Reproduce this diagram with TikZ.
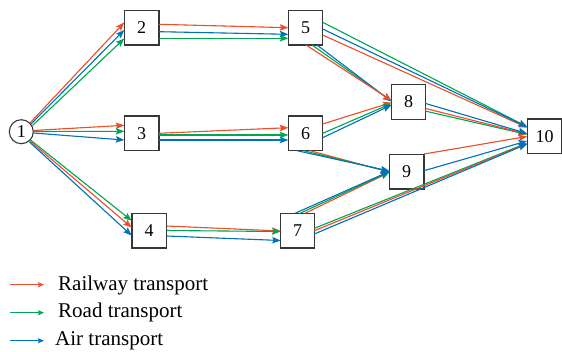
\documentclass[tikz,border=0pt]{standalone}
\usepackage{fontspec}
\setmainfont{Liberation Serif}
\usetikzlibrary{arrows.meta,calc}
\definecolor{rrail}{RGB}{239,78,42}
\definecolor{rroad}{RGB}{0,166,81}
\definecolor{rair}{RGB}{0,114,188}
\definecolor{boxline}{RGB}{55,55,55}
\tikzset{
  box/.style={draw=boxline,line width=1.3pt,minimum size=34.5pt,inner sep=0pt,font=\fontsize{18}{20}\selectfont},
  circ/.style={draw=boxline,line width=1.1pt,circle,minimum size=24pt,inner sep=0pt,font=\fontsize{18}{20}\selectfont},
  con/.style={line width=1.1pt,-{Stealth[length=8.5pt,width=6.5pt,inset=1.5pt]}},
  legarr/.style={line width=1pt,-{Stealth[length=6pt,width=5pt,inset=1pt]}},
  rw/.style={con,draw=rrail,fill=rrail},
  rd/.style={con,draw=rroad,fill=rroad},
  ar/.style={con,draw=rair,fill=rair},
  legtext/.style={anchor=base west,inner sep=0pt,font=\fontsize{21}{23}\selectfont}
}
\begin{document}
\begin{tikzpicture}[x=1pt,y=-1pt]
\useasboundingbox (0,0) rectangle (562,351);
% nodes
\node[circ] (n1) at (21.3,131.7) {1};
\node[box] (n2) at (141.7,27.8) {2};
\node[box] (n3) at (141.7,133.3) {3};
\node[box] (n4) at (149.2,230.8) {4};
\node[box] (n5) at (305.5,27.8) {5};
\node[box] (n6) at (305.5,133.3) {6};
\node[box] (n7) at (297.5,230.8) {7};
\node[box] (n8) at (408.5,102) {8};
\node[box] (n9) at (406.7,171.7) {9};
\node[box] (n10) at (544.6,136.2) {10};
% 1 -> 2
\draw[rw] ($(n1)+(8.7,-8.7)$) -- ($(n2)+(-17.4,-5.3)$);
\draw[rd] ($(n1)+(11.2,-6.2)$) -- ($(n2)+(-17.4,10.7)$);
\draw[ar] ($(n1)+(9.7,-7.7)$) -- ($(n2)+(-17.4,2.2)$);
% 1 -> 3
\draw[rw] ($(n1)+(12,-1.2)$) -- ($(n3)+(-17.4,-8)$);
\draw[rd] ($(n1)+(12,-0.2)$) -- ($(n3)+(-17.4,-2)$);
\draw[ar] ($(n1)+(12,1.3)$) -- ($(n3)+(-17.4,6.7)$);
% 1 -> 4
\draw[rd] ($(n1)+(9.2,8.3)$) -- ($(n4)+(-17.5,-10.1)$);
\draw[rw] ($(n1)+(8.7,9.3)$) -- ($(n4)+(-17.5,-3.3)$);
\draw[ar] ($(n1)+(8.2,10.3)$) -- ($(n4)+(-17.5,4.7)$);
% 2 -> 5
\draw[rw] ($(n2)+(17.3,-3.5)$) -- ($(n5)+(-17.2,-0.1)$);
\draw[ar] ($(n2)+(17.3,3.9)$) -- ($(n5)+(-17.2,6.5)$);
\draw[rd] ($(n2)+(17.3,10.5)$) -- ($(n5)+(-17.2,10.5)$);
% 3 -> 6
\draw[rw] ($(n3)+(17.3,0)$) -- ($(n6)+(-17.2,-5.6)$);
\draw[rd] ($(n3)+(17.3,1.7)$) -- ($(n6)+(-17.2,1.7)$);
\draw[ar] ($(n3)+(17.3,6.7)$) -- ($(n6)+(-17.2,6.7)$);
% 4 -> 7
\draw[rw] ($(n4)+(17.5,-4.8)$) -- ($(n7)+(-16.8,0.2)$);
\draw[rd] ($(n4)+(17.5,-0.3)$) -- ($(n7)+(-16.8,0.7)$);
\draw[ar] ($(n4)+(17.5,5.2)$) -- ($(n7)+(-16.8,9.7)$);
% 5 -> 10
\draw[rd] ($(n5)+(17.2,-5.5)$) -- ($(n10)+(-17.5,-9.5)$);
\draw[rw] ($(n5)+(17.2,7.2)$) -- ($(n10)+(-17.5,-8.5)$);
\draw[ar] ($(n5)+(17.2,1.2)$) -- ($(n10)+(-17.5,-9.2)$);
% 5 -> 8
\draw[rd] ($(n5)+(6.5,17.2)$) -- ($(n8)+(-17,-1)$);
\draw[ar] ($(n5)+(11.5,17.2)$) -- ($(n8)+(-17,-0.5)$);
\draw[rw] ($(n5)+(0.5,17.2)$) -- ($(n8)+(-17,-1.5)$);
% 6 -> 8
\draw[rw] ($(n6)+(17.2,-9.3)$) -- ($(n8)+(-17,0.5)$);
\draw[rd] ($(n6)+(17.2,0)$) -- ($(n8)+(-17,1.5)$);
\draw[ar] ($(n6)+(17.2,4.4)$) -- ($(n8)+(-17,3)$);
% 6 -> 9
\draw[rw] ($(n6)+(4.5,17.4)$) -- ($(n9)+(-17.4,0.3)$);
\draw[rd] ($(n6)+(-2,17.4)$) -- ($(n9)+(-17.4,-0.2)$);
\draw[ar] ($(n6)+(-8.5,17.4)$) -- ($(n9)+(-17.4,-0.7)$);
% 7 -> 9
\draw[rw] ($(n7)+(7.5,-17.5)$) -- ($(n9)+(-17.4,0.8)$);
\draw[rd] ($(n7)+(2.5,-17.5)$) -- ($(n9)+(-17.4,0.3)$);
\draw[ar] ($(n7)+(-2.5,-17.5)$) -- ($(n9)+(-17.4,-0.2)$);
% 7 -> 10
\draw[rd] ($(n7)+(16.8,-2.5)$) -- ($(n10)+(-17.5,6.8)$);
\draw[rw] ($(n7)+(16.8,-0.1)$) -- ($(n10)+(-17.5,7.3)$);
\draw[ar] ($(n7)+(16.8,3.2)$) -- ($(n10)+(-17.5,7.8)$);
% 8 -> 10
\draw[rd] ($(n8)+(16.5,9)$) -- ($(n10)+(-17.5,-1.7)$);
\draw[rw] ($(n8)+(16.5,6.3)$) -- ($(n10)+(-17.5,-2.2)$);
\draw[ar] ($(n8)+(16.5,1.3)$) -- ($(n10)+(-17.5,-2.7)$);
% 9 -> 10
\draw[rw] ($(n9)+(17.3,-17.7)$) -- ($(n10)+(-17.5,0.3)$);
\draw[ar] ($(n9)+(17.3,-1)$) -- ($(n10)+(-17.5,4.8)$);
% legend
\coordinate (l1s) at (10,284.7); \coordinate (l1e) at (44,284.7);
\coordinate (l2s) at (10,312.7); \coordinate (l2e) at (44,312.7);
\coordinate (l3s) at (10,340.7); \coordinate (l3e) at (44,340.7);
\draw[legarr,draw=rrail,fill=rrail] (l1s) -- (l1e);
\draw[legarr,draw=rroad,fill=rroad] (l2s) -- (l2e);
\draw[legarr,draw=rair,fill=rair] (l3s) -- (l3e);
\node[legtext] (t1) at (58,290) {Railway transport};
\node[legtext] (t2) at (58,317.7) {Road transport};
\node[legtext] (t3) at (55,345.5) {Air transport};
\end{tikzpicture}
\end{document}
